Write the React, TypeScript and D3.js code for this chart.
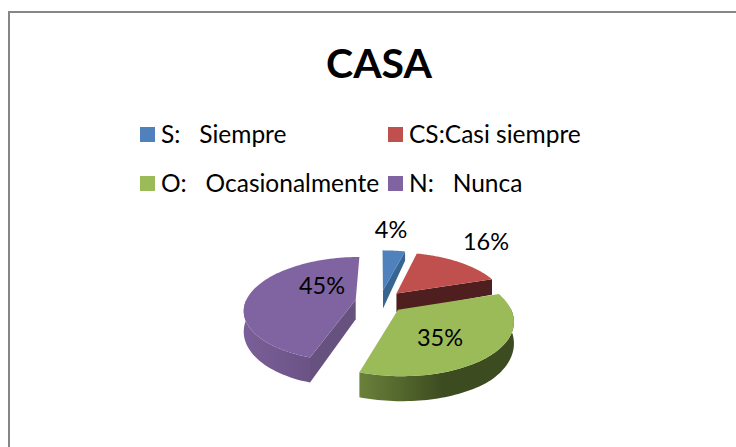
import React from "react";
import * as d3 from "d3";

const categories = ["S:   Siempre", "CS:Casi siempre", "O:   Ocasionalmente", "N:   Nunca"];
const values = [4, 16, 35, 45];
const labels = ["4%", "16%", "35%", "45%"];
const topColors = ["#4f81bd", "#c0504d", "#9bbb59", "#8064a2"];
const cutColors = ["#376592", "#4f1f1f", "#5b7032", "#66517f"];
const rimStart = ["#376592", "#5e2523", "#6a813a", "#7a5f98"];
const rimEnd = ["#2c5078", "#4f1f1f", "#3c4b20", "#5f4a78"];
const legendX = [140, 388, 140, 388];
const legendY = [134.5, 134.5, 183.5, 183.5];
const labelPos: [number, number][] = [[391, 238], [486, 250], [440, 346], [322, 294]];

const W = 736, H = 447;
const cx = 380, cy = 301.5, R = 110, A = 51, P = 0.18, EXPLODE = 0.225;
const depth = d3.scaleLinear().domain([250, 295, 355]).range([9, 19, 25]).clamp(true);
const arcs = d3.pie<number>().sort(null).startAngle(0).endAngle(2 * Math.PI)(values);

type Pt = [number, number];
const line = d3.line<Pt>();

function project(X: number, Y: number): Pt {
  const k = 1 / (1 + P * Y);
  return [cx + R * X * k, cy - A * Y * k];
}
function drop(p: Pt): Pt {
  return [p[0], p[1] + depth(p[1])];
}

export default function App() {
  const slices = arcs.map((a, i) => {
    const mid = (a.startAngle + a.endAngle) / 2;
    const ox = EXPLODE * Math.sin(mid), oy = EXPLODE * Math.cos(mid);
    const apex = project(ox, oy);
    const ts = d3.range(0, 81).map((j) => a.startAngle + ((a.endAngle - a.startAngle) * j) / 80);
    const pts = ts.map((t) => project(ox + Math.sin(t), oy + Math.cos(t)));
    const top = line([apex, ...pts]) + "Z";
    const first = pts[0], last = pts[pts.length - 1];
    const cut1 = line([apex, first, drop(first), drop(apex)]) + "Z";
    const cut2 = line([apex, last, drop(last), drop(apex)]) + "Z";
    const near = pts.filter((_, j) => Math.cos(ts[j]) <= 0.05);
    const band = near.length > 1 ? line([...near, ...near.slice().reverse().map(drop)]) + "Z" : "";
    const xs = pts.map((p) => p[0]);
    return { i, top, cut1, cut2, band, x0: d3.min(xs)!, x1: d3.max(xs)! };
  });
  const order = [0, 1, 3, 2];
  return (
    <svg width={W} height={H} style={{ position: "absolute", left: 0, top: 0, background: "#fff" }}>
      <defs>
        {slices.map((s) => (
          <linearGradient key={s.i} id={`rim${s.i}`} gradientUnits="userSpaceOnUse" x1={s.x0} x2={s.x1} y1={0} y2={0}>
            <stop offset="0" stopColor={rimStart[s.i]} />
            <stop offset={s.i === 3 ? "1" : "0.55"} stopColor={rimEnd[s.i]} />
          </linearGradient>
        ))}
      </defs>
      <line x1={8} y1={12} x2={W} y2={12} stroke="#868686" strokeWidth={2} />
      <line x1={9} y1={11} x2={9} y2={H} stroke="#868686" strokeWidth={2} />
      <text x={379} y={78} textAnchor="middle" fontFamily="Lato" fontWeight={700} fontSize={41} fill="#000">CASA</text>
      {categories.map((c, i) => (
        <g key={c}>
          <rect x={legendX[i]} y={legendY[i] - 7.5} width={15} height={15} fill={topColors[i]} />
          <text x={legendX[i] + 21} y={legendY[i] + 8.5} fontFamily="Lato" fontSize={24.5} fill="#000" style={{ whiteSpace: "pre" }}>{c}</text>
        </g>
      ))}
      {order.map((idx) => {
        const s = slices[idx];
        return (
          <g key={idx}>
            {idx === 0 || idx === 1 ? <path d={s.cut2} fill={cutColors[idx]} /> : null}
            {idx === 3 ? <path d={s.cut1} fill={cutColors[idx]} /> : null}
            {s.band ? <path d={s.band} fill={`url(#rim${idx})`} /> : null}
            <path d={s.top} fill={topColors[idx]} />
          </g>
        );
      })}
      {labels.map((l, i) => (
        <text key={l} x={labelPos[i][0]} y={labelPos[i][1]} textAnchor="middle" fontFamily="Lato" fontSize={23.5} fill="#000">{l}</text>
      ))}
    </svg>
  );
}
